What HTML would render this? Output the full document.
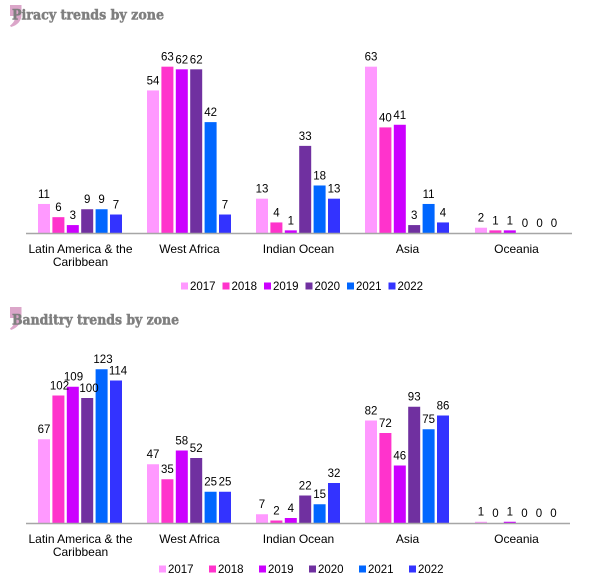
<!DOCTYPE html>
<html><head><meta charset="utf-8"><style>
html,body{margin:0;padding:0;background:#fff;}
svg{display:block;}
.v{font-family:"Liberation Sans",sans-serif;font-size:11.5px;fill:#000;text-anchor:middle;}
.c{font-family:"Liberation Sans",sans-serif;font-size:12px;fill:#000;text-anchor:middle;}
.l{font-family:"Liberation Sans",sans-serif;font-size:11.5px;fill:#000;}
.t{font-family:"DejaVu Serif","Liberation Serif",serif;font-weight:bold;font-size:13.5px;fill:#7f7f7f;stroke:#7f7f7f;stroke-width:0.5px;}
</style></head><body>
<svg width="600" height="584" viewBox="0 0 600 584" xmlns="http://www.w3.org/2000/svg">
<!-- Title 1 -->
<path d="M10,5 L21.5,5 L21.5,15 C21.5,21 17,25.5 11,27 L10,25.5 C13,23.5 15,20.5 15.5,16 L10,16 Z" fill="#dba6c9"/>
<text class="t" x="12" y="19.5" textLength="152" lengthAdjust="spacingAndGlyphs">Piracy trends by zone</text>
<!-- Title 2 -->
<path d="M10,307 L21.5,307 L21.5,317 C21.5,323 17,328 11,330 L10,328.5 C13,326.5 15,323 15.5,318 L10,318 Z" fill="#dba6c9"/>
<text class="t" x="12" y="324.5" textLength="167" lengthAdjust="spacingAndGlyphs">Banditry trends by zone</text>

<!-- ===== Chart 1 bars ===== -->
<g>
<rect x="38" y="203.96" width="12" height="29.04" fill="#ff99ff"/>
<rect x="52.4" y="217.16" width="12" height="15.84" fill="#ff33cc"/>
<rect x="66.8" y="225.08" width="12" height="7.92" fill="#cc00ff"/>
<rect x="81.2" y="209.24" width="12" height="23.76" fill="#7030a0"/>
<rect x="95.6" y="209.24" width="12" height="23.76" fill="#0066ff"/>
<rect x="110" y="214.52" width="12" height="18.48" fill="#3333ff"/>

<rect x="147" y="90.44" width="12" height="142.56" fill="#ff99ff"/>
<rect x="161.4" y="66.68" width="12" height="166.32" fill="#ff33cc"/>
<rect x="175.8" y="69.32" width="12" height="163.68" fill="#cc00ff"/>
<rect x="190.2" y="69.32" width="12" height="163.68" fill="#7030a0"/>
<rect x="204.6" y="122.12" width="12" height="110.88" fill="#0066ff"/>
<rect x="219" y="214.52" width="12" height="18.48" fill="#3333ff"/>

<rect x="256" y="198.68" width="12" height="34.32" fill="#ff99ff"/>
<rect x="270.4" y="222.44" width="12" height="10.56" fill="#ff33cc"/>
<rect x="284.8" y="230.36" width="12" height="2.64" fill="#cc00ff"/>
<rect x="299.2" y="145.88" width="12" height="87.12" fill="#7030a0"/>
<rect x="313.6" y="185.48" width="12" height="47.52" fill="#0066ff"/>
<rect x="328" y="198.68" width="12" height="34.32" fill="#3333ff"/>

<rect x="365" y="66.68" width="12" height="166.32" fill="#ff99ff"/>
<rect x="379.4" y="127.4" width="12" height="105.6" fill="#ff33cc"/>
<rect x="393.8" y="124.76" width="12" height="108.24" fill="#cc00ff"/>
<rect x="408.2" y="225.08" width="12" height="7.92" fill="#7030a0"/>
<rect x="422.6" y="203.96" width="12" height="29.04" fill="#0066ff"/>
<rect x="437" y="222.44" width="12" height="10.56" fill="#3333ff"/>

<rect x="475" y="227.72" width="12" height="5.28" fill="#ff99ff"/>
<rect x="489.4" y="230.36" width="12" height="2.64" fill="#ff33cc"/>
<rect x="503.8" y="230.36" width="12" height="2.64" fill="#cc00ff"/>
</g>
<line x1="26" y1="233.5" x2="572" y2="233.5" stroke="#a6a6a6" stroke-width="1.5"/>
<!-- values chart 1 -->
<g>
<text class="v" x="44" y="198">11</text>
<text class="v" x="58.4" y="211.2">6</text>
<text class="v" x="72.8" y="219.1">3</text>
<text class="v" x="87.2" y="203.2">9</text>
<text class="v" x="101.6" y="203.2">9</text>
<text class="v" x="116" y="208.5">7</text>

<text class="v" x="153" y="84.4">54</text>
<text class="v" x="167.4" y="60.7">63</text>
<text class="v" x="181.8" y="63.3">62</text>
<text class="v" x="196.2" y="63.3">62</text>
<text class="v" x="210.6" y="116.1">42</text>
<text class="v" x="225" y="208.5">7</text>

<text class="v" x="262" y="192.7">13</text>
<text class="v" x="276.4" y="216.4">4</text>
<text class="v" x="290.8" y="224.4">1</text>
<text class="v" x="305.2" y="139.9">33</text>
<text class="v" x="319.6" y="179.5">18</text>
<text class="v" x="334" y="192.7">13</text>

<text class="v" x="371" y="60.7">63</text>
<text class="v" x="385.4" y="121.4">40</text>
<text class="v" x="399.8" y="118.8">41</text>
<text class="v" x="414.2" y="219.1">3</text>
<text class="v" x="428.6" y="198">11</text>
<text class="v" x="443" y="216.4">4</text>

<text class="v" x="481" y="221.7">2</text>
<text class="v" x="495.4" y="224.4">1</text>
<text class="v" x="509.8" y="224.4">1</text>
<text class="v" x="525" y="227">0</text>
<text class="v" x="539.6" y="227">0</text>
<text class="v" x="554" y="227">0</text>
</g>
<!-- categories chart 1 -->
<g>
<text class="c" x="80.5" y="253">Latin America &amp; the</text>
<text class="c" x="80.5" y="266">Caribbean</text>
<text class="c" x="189.5" y="253">West Africa</text>
<text class="c" x="298.5" y="253">Indian Ocean</text>
<text class="c" x="407.5" y="253">Asia</text>
<text class="c" x="516.5" y="253">Oceania</text>
</g>
<!-- legend chart 1 -->
<g>
<rect x="181" y="282.5" width="7" height="7" fill="#ff99ff"/><text class="l" x="190" y="290">2017</text>
<rect x="222.5" y="282.5" width="7" height="7" fill="#ff33cc"/><text class="l" x="231.5" y="290">2018</text>
<rect x="264" y="282.5" width="7" height="7" fill="#cc00ff"/><text class="l" x="273" y="290">2019</text>
<rect x="305.5" y="282.5" width="7" height="7" fill="#7030a0"/><text class="l" x="314.5" y="290">2020</text>
<rect x="347" y="282.5" width="7" height="7" fill="#0066ff"/><text class="l" x="356" y="290">2021</text>
<rect x="388.5" y="282.5" width="7" height="7" fill="#3333ff"/><text class="l" x="397.5" y="290">2022</text>
</g>

<!-- ===== Chart 2 bars ===== -->
<g>
<rect x="38" y="439.25" width="12" height="83.75" fill="#ff99ff"/>
<rect x="52.4" y="395.5" width="12" height="127.5" fill="#ff33cc"/>
<rect x="66.8" y="386.75" width="12" height="136.25" fill="#cc00ff"/>
<rect x="81.2" y="398" width="12" height="125" fill="#7030a0"/>
<rect x="95.6" y="369.25" width="12" height="153.75" fill="#0066ff"/>
<rect x="110" y="380.5" width="12" height="142.5" fill="#3333ff"/>

<rect x="147" y="464.25" width="12" height="58.75" fill="#ff99ff"/>
<rect x="161.4" y="479.25" width="12" height="43.75" fill="#ff33cc"/>
<rect x="175.8" y="450.5" width="12" height="72.5" fill="#cc00ff"/>
<rect x="190.2" y="458" width="12" height="65" fill="#7030a0"/>
<rect x="204.6" y="491.75" width="12" height="31.25" fill="#0066ff"/>
<rect x="219" y="491.75" width="12" height="31.25" fill="#3333ff"/>

<rect x="256" y="514.25" width="12" height="8.75" fill="#ff99ff"/>
<rect x="270.4" y="520.5" width="12" height="2.5" fill="#ff33cc"/>
<rect x="284.8" y="518" width="12" height="5" fill="#cc00ff"/>
<rect x="299.2" y="495.5" width="12" height="27.5" fill="#7030a0"/>
<rect x="313.6" y="504.25" width="12" height="18.75" fill="#0066ff"/>
<rect x="328" y="483" width="12" height="40" fill="#3333ff"/>

<rect x="365" y="420.5" width="12" height="102.5" fill="#ff99ff"/>
<rect x="379.4" y="433" width="12" height="90" fill="#ff33cc"/>
<rect x="393.8" y="465.5" width="12" height="57.5" fill="#cc00ff"/>
<rect x="408.2" y="406.75" width="12" height="116.25" fill="#7030a0"/>
<rect x="422.6" y="429.25" width="12" height="93.75" fill="#0066ff"/>
<rect x="437" y="415.5" width="12" height="107.5" fill="#3333ff"/>

<rect x="475" y="521.75" width="12" height="1.25" fill="#ff99ff"/>
<rect x="503.8" y="521.75" width="12" height="1.25" fill="#cc00ff"/>
</g>
<line x1="26" y1="523.5" x2="570" y2="523.5" stroke="#a6a6a6" stroke-width="1.5"/>
<!-- values chart 2 -->
<g>
<text class="v" x="44" y="433.2">67</text>
<text class="v" x="59.5" y="389.5">102</text>
<text class="v" x="73.5" y="380.7">109</text>
<text class="v" x="89" y="392">100</text>
<text class="v" x="103" y="363.2">123</text>
<text class="v" x="118" y="374.5">114</text>

<text class="v" x="153" y="458.2">47</text>
<text class="v" x="167.4" y="473.2">35</text>
<text class="v" x="181.8" y="444.5">58</text>
<text class="v" x="196.2" y="452">52</text>
<text class="v" x="210.6" y="485.7">25</text>
<text class="v" x="225" y="485.7">25</text>

<text class="v" x="262" y="508.2">7</text>
<text class="v" x="276.4" y="514.5">2</text>
<text class="v" x="290.8" y="512">4</text>
<text class="v" x="305.2" y="489.5">22</text>
<text class="v" x="319.6" y="498.2">15</text>
<text class="v" x="334" y="477">32</text>

<text class="v" x="371" y="414.5">82</text>
<text class="v" x="385.4" y="427">72</text>
<text class="v" x="399.8" y="459.5">46</text>
<text class="v" x="414.2" y="400.7">93</text>
<text class="v" x="428.6" y="423.2">75</text>
<text class="v" x="443" y="409.5">86</text>

<text class="v" x="481" y="515.7">1</text>
<text class="v" x="495.4" y="517">0</text>
<text class="v" x="509.8" y="515.7">1</text>
<text class="v" x="524.5" y="517">0</text>
<text class="v" x="539" y="517">0</text>
<text class="v" x="553.5" y="517">0</text>
</g>
<!-- categories chart 2 -->
<g>
<text class="c" x="80.5" y="543">Latin America &amp; the</text>
<text class="c" x="80.5" y="556">Caribbean</text>
<text class="c" x="189.5" y="543">West Africa</text>
<text class="c" x="298.5" y="543">Indian Ocean</text>
<text class="c" x="407.5" y="543">Asia</text>
<text class="c" x="516.5" y="543">Oceania</text>
</g>
<!-- legend chart 2 -->
<g>
<rect x="159" y="565.5" width="7" height="7" fill="#ff99ff"/><text class="l" x="168" y="573">2017</text>
<rect x="209" y="565.5" width="7" height="7" fill="#ff33cc"/><text class="l" x="218" y="573">2018</text>
<rect x="259" y="565.5" width="7" height="7" fill="#cc00ff"/><text class="l" x="268" y="573">2019</text>
<rect x="309" y="565.5" width="7" height="7" fill="#7030a0"/><text class="l" x="318" y="573">2020</text>
<rect x="359" y="565.5" width="7" height="7" fill="#0066ff"/><text class="l" x="368" y="573">2021</text>
<rect x="409" y="565.5" width="7" height="7" fill="#3333ff"/><text class="l" x="418" y="573">2022</text>
</g>
</svg>
</body></html>
